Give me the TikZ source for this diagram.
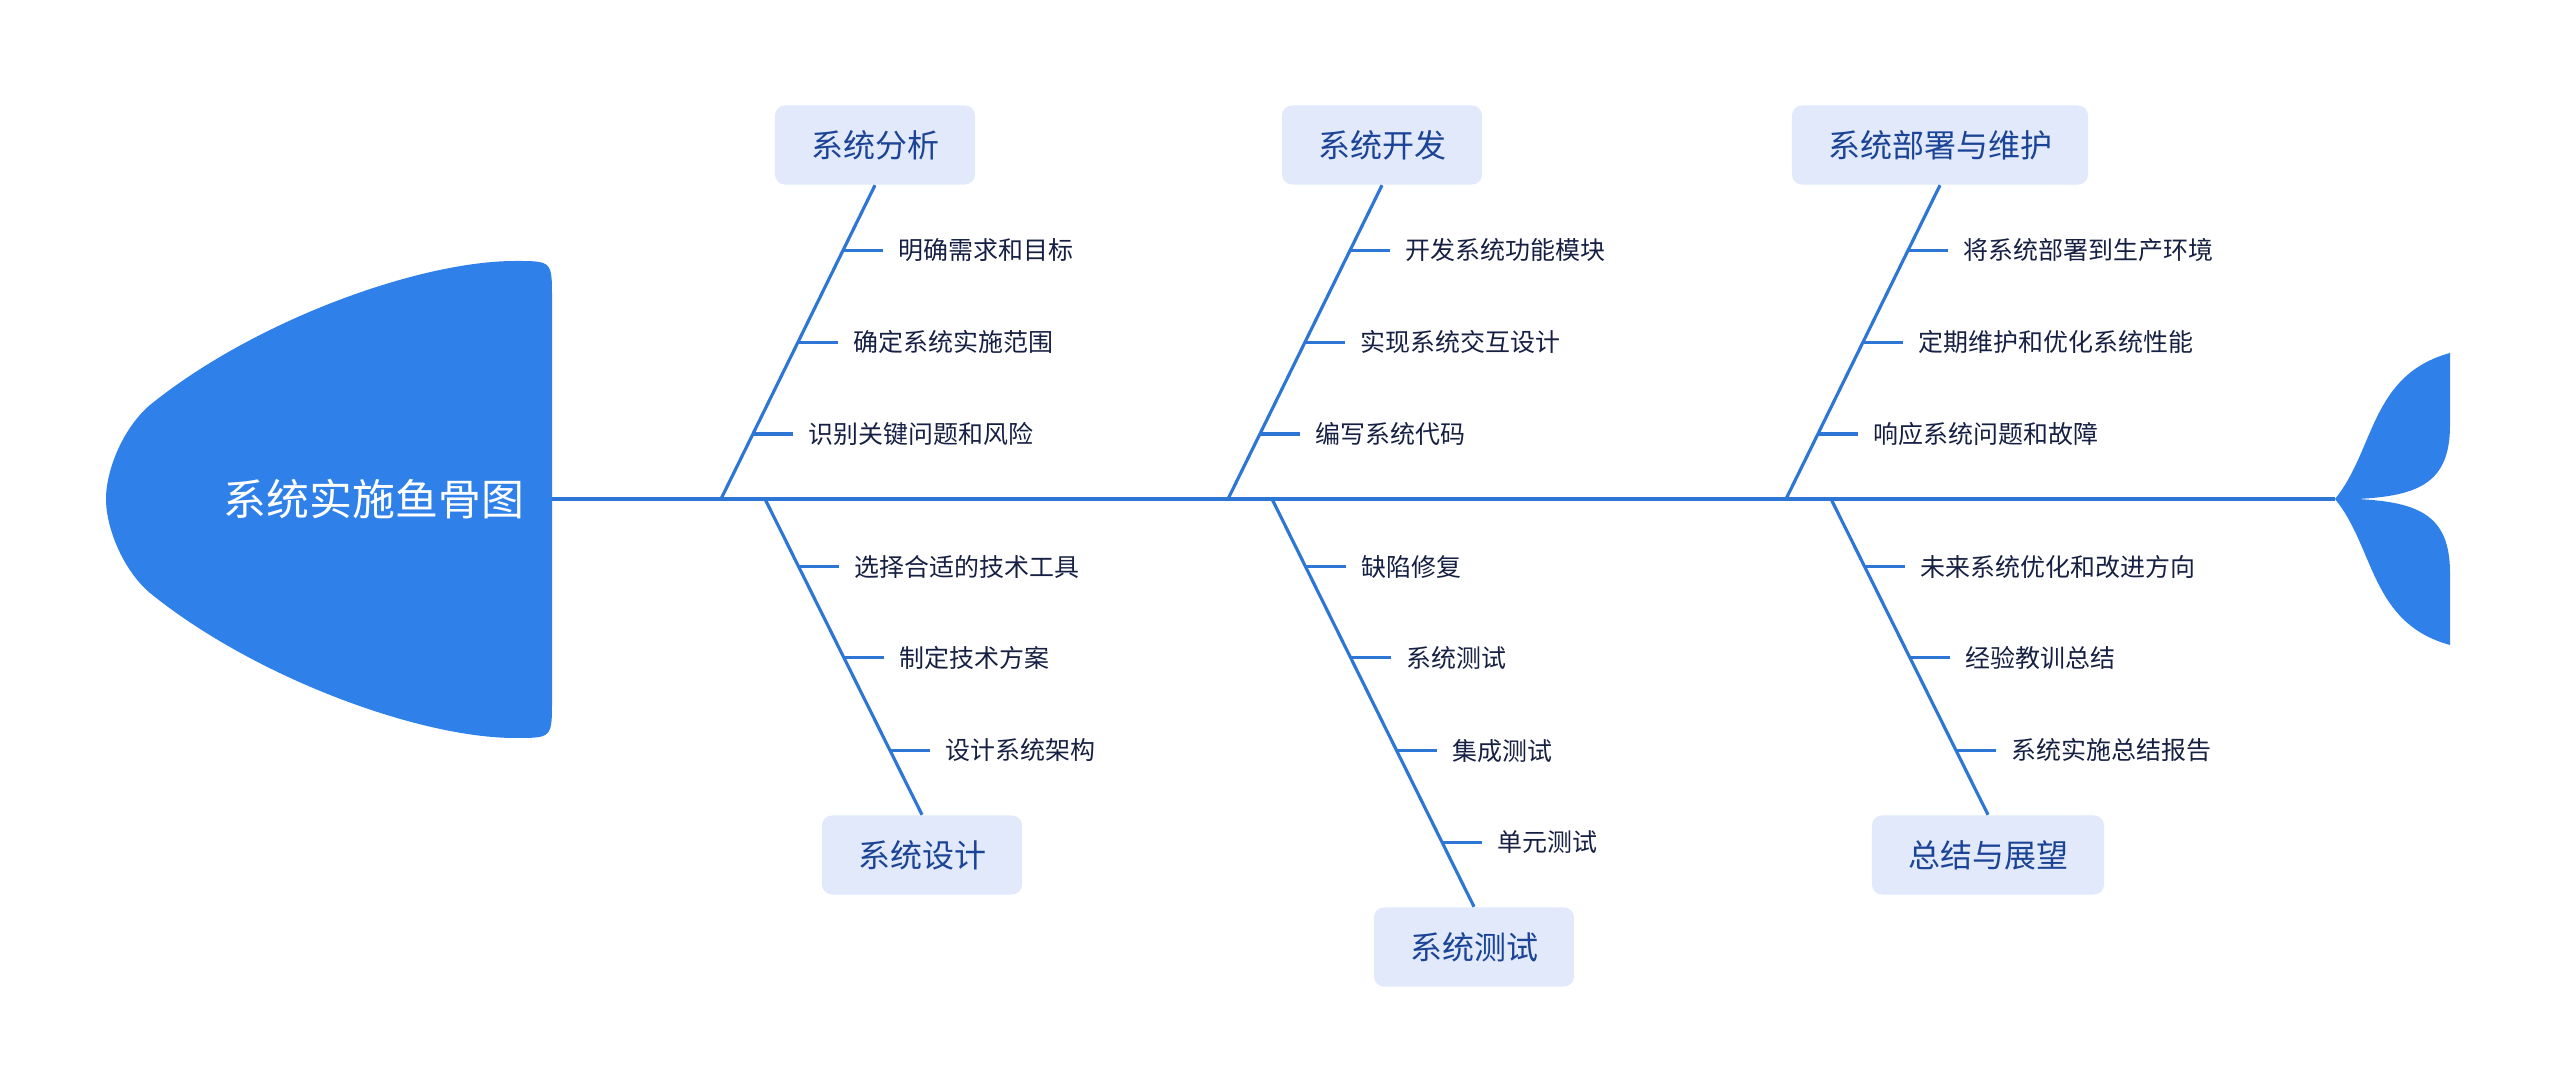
\documentclass[tikz,border=0pt]{standalone}
\usepackage{fontspec}
\setmainfont{Noto Sans CJK SC}
\usetikzlibrary{calc}

\definecolor{fishblue}{RGB}{47,128,232}
\definecolor{bonecol}{RGB}{46,118,214}
\definecolor{boxfill}{RGB}{225,233,250}
\definecolor{boxtext}{RGB}{28,68,150}
\definecolor{itemtext}{RGB}{22,32,66}

\tikzset{
  bone/.style={draw=bonecol,line width=0.9pt},
  category/.style={fill=boxfill,rounded corners=0.1cm,text=boxtext,inner xsep=0.36cm,
    inner ysep=0pt,minimum height=0.79cm,font=\fontsize{9.1pt}{11pt}\selectfont},
  item/.style={text=itemtext,inner sep=0pt,anchor=west,font=\fontsize{7.1pt}{8.5pt}\selectfont},
}

\begin{document}
\begin{tikzpicture}
  \begin{scope}[x=0.01cm,y=-0.01cm]
    \useasboundingbox (0,0) rectangle (2560,1092);

    \fill[fishblue] (106,499) .. controls (106,470) and (123,428) .. (150,405)
      .. controls (255,320) and (420,261) .. (515,261)
      .. controls (552,261) .. (552,298) -- (552,700)
      .. controls (552,738) .. (515,738)
      .. controls (420,738) and (255,678) .. (150,593)
      .. controls (123,570) and (106,528) .. (106,499) -- cycle;
    \node[text=white,inner sep=0pt,font=\fontsize{12.2pt}{14pt}\selectfont] (title) at (374,499) {系统实施鱼骨图};

    \fill[fishblue] (2335,499) .. controls (2375,450) and (2370,375) .. (2450,353) -- (2450,425)
      .. controls (2450,482) and (2420,496) .. (2357,499)
      .. controls (2420,502) and (2450,516) .. (2450,573) -- (2450,645)
      .. controls (2370,623) and (2375,548) .. (2335,499) -- cycle;

    \coordinate (neck) at (552,499);
    \coordinate (tail joint) at (2335,499);
    \draw[bone,line width=1pt] (neck) -- (tail joint);

    \node[category] (analysis) at (875,145) {系统分析};
    \node[category] (develop) at (1382,145) {系统开发};
    \node[category] (deploy) at (1940,145) {系统部署与维护};
    \node[category] (design) at (922,855) {系统设计};
    \node[category] (testing) at (1474,947) {系统测试};
    \node[category] (summary) at (1988,855) {总结与展望};

    \coordinate (analysis base) at (721,499);
    \coordinate (develop base) at (1228,499);
    \coordinate (deploy base) at (1786,499);
    \coordinate (design base) at (765,499);
    \coordinate (testing base) at (1272,499);
    \coordinate (summary base) at (1831,499);

    \draw[bone] (analysis base) -- (analysis.south);
    \draw[bone] (develop base) -- (develop.south);
    \draw[bone] (deploy base) -- (deploy.south);
    \draw[bone] (design base) -- (design.north);
    \draw[bone] (testing base) -- (testing.north);
    \draw[bone] (summary base) -- (summary.north);

    \foreach[count=\i] \p/\txt in {0.792/明确需求和目标,0.5/确定系统实施范围,0.207/识别关键问题和风险} {
      \path (analysis base) -- (analysis.south) coordinate[pos=\p] (analysis tick \i);
      \node[item] (analysis item \i) at ([xshift=0.55cm]analysis tick \i) {\txt};
      \draw[bone,shorten >=0.15cm] (analysis tick \i) -- (analysis item \i);
    }
    \foreach[count=\i] \p/\txt in {0.792/开发系统功能模块,0.5/实现系统交互设计,0.207/编写系统代码} {
      \path (develop base) -- (develop.south) coordinate[pos=\p] (develop tick \i);
      \node[item] (develop item \i) at ([xshift=0.55cm]develop tick \i) {\txt};
      \draw[bone,shorten >=0.15cm] (develop tick \i) -- (develop item \i);
    }
    \foreach[count=\i] \p/\txt in {0.792/将系统部署到生产环境,0.5/定期维护和优化系统性能,0.207/响应系统问题和故障} {
      \path (deploy base) -- (deploy.south) coordinate[pos=\p] (deploy tick \i);
      \node[item] (deploy item \i) at ([xshift=0.55cm]deploy tick \i) {\txt};
      \draw[bone,shorten >=0.15cm] (deploy tick \i) -- (deploy item \i);
    }
    \foreach[count=\i] \p/\txt in {0.215/选择合适的技术工具,0.502/制定技术方案,0.796/设计系统架构} {
      \path (design base) -- (design.north) coordinate[pos=\p] (design tick \i);
      \node[item] (design item \i) at ([xshift=0.55cm]design tick \i) {\txt};
      \draw[bone,shorten >=0.15cm] (design tick \i) -- (design item \i);
    }
    \foreach[count=\i] \p/\txt in {0.166/缺陷修复,0.389/系统测试,0.617/集成测试,0.842/单元测试} {
      \path (testing base) -- (testing.north) coordinate[pos=\p] (testing tick \i);
      \node[item] (testing item \i) at ([xshift=0.55cm]testing tick \i) {\txt};
      \draw[bone,shorten >=0.15cm] (testing tick \i) -- (testing item \i);
    }
    \foreach[count=\i] \p/\txt in {0.215/未来系统优化和改进方向,0.502/经验教训总结,0.796/系统实施总结报告} {
      \path (summary base) -- (summary.north) coordinate[pos=\p] (summary tick \i);
      \node[item] (summary item \i) at ([xshift=0.55cm]summary tick \i) {\txt};
      \draw[bone,shorten >=0.15cm] (summary tick \i) -- (summary item \i);
    }
  \end{scope}
\end{tikzpicture}
\end{document}
